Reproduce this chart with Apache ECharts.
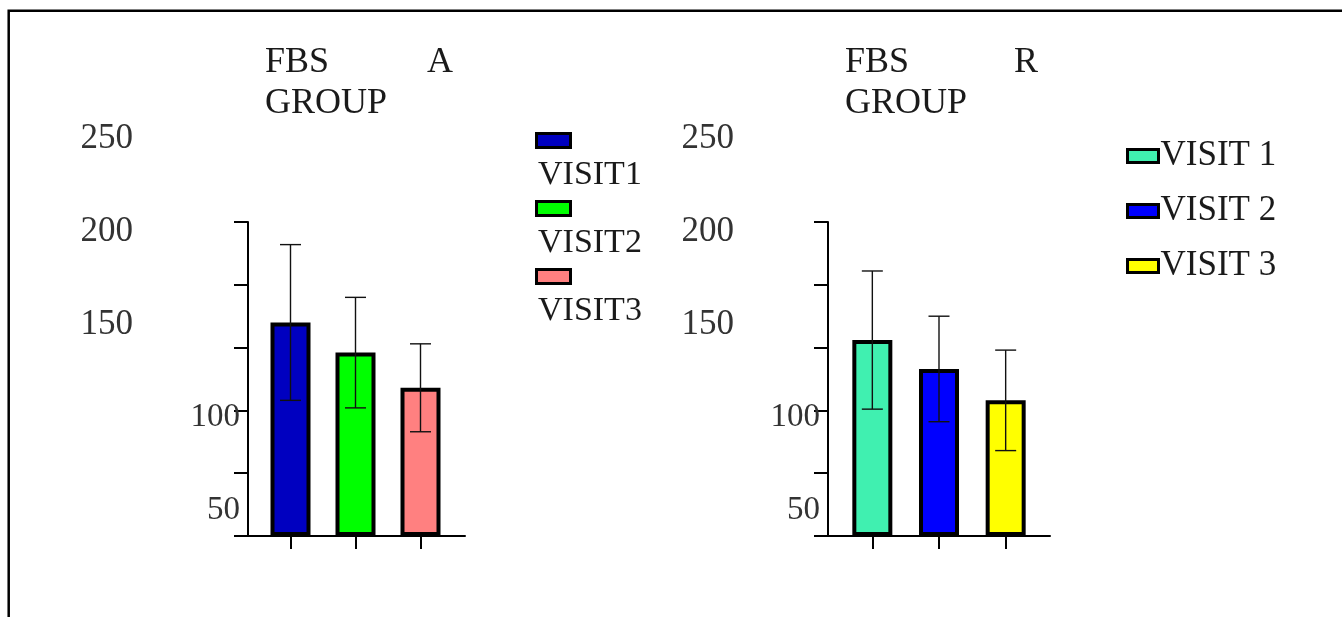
<!DOCTYPE html>
<html>
<head>
<meta charset="utf-8">
<script src="https://cdn.jsdelivr.net/npm/echarts@6/dist/echarts.min.js"></script>
<style>
  html, body { margin: 0; padding: 0; background: #fff; }
  #chart { width: 1342px; height: 617px; }
</style>
</head>
<body>
<div id="chart"></div>
<script>
// Fasting blood sugar per visit, mean and SD, for the two groups
const groupNames = ['A', 'R'];
const visitsA = ['VISIT1', 'VISIT2', 'VISIT3'];
const visitsR = ['VISIT 1', 'VISIT 2', 'VISIT 3'];
const meanA = [170, 146, 118];
const sdA = [62, 44, 35];
const meanR = [156, 133, 108];
const sdR = [55, 42, 40];
const colorsA = ['#0000c0', '#00ff00', '#ff8080'];
const colorsR = ['#40f0b0', '#0000ff', '#ffff00'];
const yTickLabels = [50, 100, 150, 200, 250];

const FONT = '"Liberation Serif", "Times New Roman", serif';
const INK = '#000';
const PLOT_TOP = 222;
const PLOT_BOTTOM = 81;

function buildPanel(idx, cfg) {
  const g = idx * 3;
  const grids = [
    { left: cfg.axisX, top: PLOT_TOP, width: cfg.axisW, bottom: PLOT_BOTTOM },
    { left: cfg.barX, top: PLOT_TOP, width: cfg.barW, bottom: PLOT_BOTTOM },
    { left: cfg.axisX, top: 139, width: 10, bottom: 107 }
  ];
  const xAxes = [
    {
      gridIndex: g, type: 'value', min: 0, max: 1,
      axisLine: { show: true, onZero: false, lineStyle: { color: INK, width: 2 } },
      axisTick: { show: false }, axisLabel: { show: false }, splitLine: { show: false }
    },
    {
      gridIndex: g + 1, type: 'category', data: cfg.names,
      axisLine: { show: false },
      axisTick: { show: true, alignWithLabel: true, length: 13, lineStyle: { color: INK, width: 2 } },
      axisLabel: { show: false }, splitLine: { show: false }
    },
    { gridIndex: g + 2, type: 'value', show: false }
  ];
  const yAxes = [
    {
      gridIndex: g, type: 'value', min: 0, max: 250, interval: 50,
      axisLine: { show: true, onZero: false, lineStyle: { color: INK, width: 2 } },
      axisTick: { show: true, length: 14, lineStyle: { color: INK, width: 2 } },
      axisLabel: { show: false }, splitLine: { show: false }
    },
    { gridIndex: g + 1, type: 'value', min: 0, max: 250, show: false },
    {
      gridIndex: g + 2, type: 'value',
      min: yTickLabels[0], max: yTickLabels[yTickLabels.length - 1], interval: 50,
      axisLine: { show: false }, axisTick: { show: false }, splitLine: { show: false },
      axisLabel: {
        show: true, margin: 8, fontFamily: FONT, fontSize: 33, color: '#333',
        formatter: v => (v >= 150 ? '{far|' + v + '}' : String(v)),
        rich: { far: { padding: [0, cfg.farPad, 0, 0], fontFamily: FONT, fontSize: 35, color: '#333' } }
      }
    }
  ];
  const bars = cfg.names.map((name, i) => ({
    type: 'bar', name,
    xAxisIndex: g + 1, yAxisIndex: g + 1,
    barWidth: 40, barGap: '-100%',
    data: cfg.names.map((_, j) => (j === i ? cfg.mean[i] : '-')),
    itemStyle: { color: cfg.colors[i], borderColor: INK, borderWidth: 4 },
    z: 2
  }));
  const errors = {
    type: 'custom',
    xAxisIndex: g + 1, yAxisIndex: g + 1,
    z: 5, silent: true,
    encode: { x: 0, y: [1, 2] },
    data: cfg.mean.map((m, i) => [i, m - cfg.sd[i], m + cfg.sd[i]]),
    renderItem: (params, api) => {
      const lo = api.coord([api.value(0), api.value(1)]);
      const hi = api.coord([api.value(0), api.value(2)]);
      const x = lo[0];
      const half = 10.5;
      const st = { stroke: '#111', lineWidth: 1.4 };
      return {
        type: 'group',
        children: [
          { type: 'line', shape: { x1: x, y1: lo[1], x2: x, y2: hi[1] }, style: st },
          { type: 'line', shape: { x1: x - half, y1: hi[1], x2: x + half, y2: hi[1] }, style: st },
          { type: 'line', shape: { x1: x - half, y1: lo[1], x2: x + half, y2: lo[1] }, style: st }
        ]
      };
    }
  };
  const title = {
    left: cfg.titleX, top: 42, padding: 0,
    text: '{w|FBS}' + groupNames[idx] + '\nGROUP',
    textStyle: {
      fontFamily: FONT, fontSize: 36, fontWeight: 'normal', color: '#1a1a1a', lineHeight: 41,
      rich: { w: { width: cfg.titleGap, fontFamily: FONT, fontSize: 36, color: '#1a1a1a', lineHeight: 41 } }
    }
  };
  return { grids, xAxes, yAxes, series: bars.concat([errors]), title };
}

const pA = buildPanel(0, {
  names: visitsA, mean: meanA, sd: sdA, colors: colorsA,
  axisX: 248, axisW: 217, barX: 258, barW: 195, farPad: 107,
  titleX: 265, titleGap: 162
});
const pR = buildPanel(1, {
  names: visitsR, mean: meanR, sd: sdR, colors: colorsR,
  axisX: 828, axisW: 222, barX: 839, barW: 200, farPad: 86,
  titleX: 845, titleGap: 169
});

const swatchRich = {};
colorsA.forEach((c, i) => {
  swatchRich['s' + i] = {
    width: 31, height: 11, lineHeight: 28, fontSize: 10,
    backgroundColor: c, borderColor: INK, borderWidth: 3
  };
});
swatchRich.t = { fontFamily: FONT, fontSize: 34, lineHeight: 41, color: '#1a1a1a' };

const option = {
  backgroundColor: '#fff',
  animation: false,
  title: [pA.title, pR.title],
  grid: pA.grids.concat(pR.grids),
  xAxis: pA.xAxes.concat(pR.xAxes),
  yAxis: pA.yAxes.concat(pR.yAxes),
  legend: [
    {
      data: visitsA, orient: 'vertical', left: 533, top: 132, padding: 0, itemGap: 8,
      icon: 'none', itemWidth: 0, itemHeight: 14, selectedMode: false,
      itemStyle: { borderWidth: 0 },
      formatter: name => '{s' + visitsA.indexOf(name) + '| }\n{t|' + name + '}',
      textStyle: { fontFamily: FONT, fontSize: 34, color: '#1a1a1a', rich: swatchRich }
    },
    {
      data: visitsR, orient: 'vertical', left: 1126, top: 132, padding: 0, itemGap: 7,
      icon: 'rect', itemWidth: 31, itemHeight: 13, selectedMode: false,
      itemStyle: { borderColor: INK, borderWidth: 3 },
      textStyle: { fontFamily: FONT, fontSize: 35, color: '#1a1a1a', lineHeight: 40, padding: [0, 0, 8, -3] }
    }
  ],
  graphic: [
    {
      type: 'polyline', silent: true,
      shape: { points: [[8.7, 617], [8.7, 10.7], [1342, 10.7]] },
      style: { stroke: INK, lineWidth: 2.5, fill: null }
    }
  ],
  series: pA.series.concat(pR.series)
};

const chart = echarts.init(document.getElementById('chart'), null, { renderer: 'canvas' });
chart.setOption(option);
</script>
</body>
</html>
